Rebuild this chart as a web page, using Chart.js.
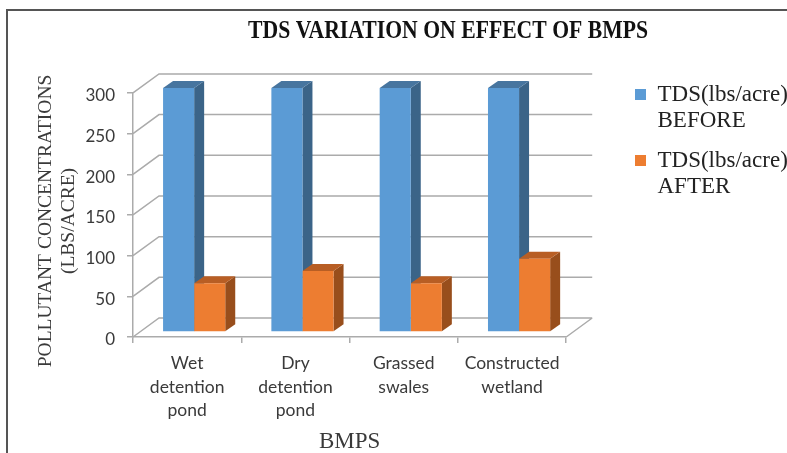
<!DOCTYPE html>
<html>
<head>
<meta charset="utf-8">
<style>
html, body { margin: 0; padding: 0; background: #fff; }
#wrap { width: 787px; height: 453px; position: relative; }
</style>
<script src="https://cdn.jsdelivr.net/npm/chart.js@4"></script>
</head>
<body>
<div id="wrap"><canvas id="chart" width="787" height="453"></canvas></div>
<script>
const categories = [
    ['Wet', 'detention', 'pond'],
    ['Dry', 'detention', 'pond'],
    ['Grassed', 'swales'],
    ['Constructed', 'wetland']
];
const before = [300, 300, 300, 300];
const after = [60, 75, 60, 90];
const seriesNames = [['TDS(lbs/acre)', 'BEFORE'], ['TDS(lbs/acre)', 'AFTER']];
const yTicks = [0, 50, 100, 150, 200, 250, 300];

const gridColor = '#ababab';
const textColor = '#3a3a3a';
const serif = '"Liberation Serif"';
const sans = 'Lato';

// depth of the fake 3D box, and of one bar
const wallDx = 26, wallDy = 19;
const barShiftX = 7, barShiftY = -5;
const barDx = 10, barDy = 7;

const shades = [
    { side: '#3b6488', top: '#47759f' },
    { side: '#984e1c', top: '#b85e24' }
];

const box3d = {
    id: 'box3d',
    afterLayout(chart) {
        // title and legend sit off-centre in the original
        chart.titleBlock.left = 248;
        chart.titleBlock.right = 648;
        chart.legend.left = 621;
        chart.legend.right = 787;
        chart.legend.top = 69;
        chart.legend.bottom = 300;
        // axis title sits a little below the middle of the axis
        const y = chart.scales.y;
        if (!y.shiftedTitle) {
            const drawTitle = y.drawTitle;
            y.drawTitle = function () {
                chart.ctx.save();
                chart.ctx.translate(0, 6);
                drawTitle.call(this);
                chart.ctx.restore();
            };
            y.shiftedTitle = true;
        }
    },
    beforeDraw(chart) {
        const ctx = chart.ctx;
        ctx.save();
        // page frame
        ctx.strokeStyle = '#555';
        ctx.lineWidth = 2;
        ctx.beginPath();
        ctx.moveTo(7, 453);
        ctx.lineTo(7, 10);
        ctx.lineTo(787, 10);
        ctx.stroke();
        ctx.restore();
    },
    beforeDatasetsDraw(chart) {
        const ctx = chart.ctx;
        const { left, right, bottom } = chart.chartArea;
        const y = chart.scales.y;
        ctx.save();
        ctx.strokeStyle = gridColor;
        ctx.lineWidth = 1.5;
        ctx.beginPath();
        y.ticks.forEach(t => {
            const py = y.getPixelForValue(t.value);
            ctx.moveTo(left, py);
            ctx.lineTo(left + wallDx, py - wallDy);
            ctx.lineTo(right + wallDx, py - wallDy);
        });
        ctx.moveTo(right, bottom);
        ctx.lineTo(right + wallDx, bottom - wallDy);
        ctx.stroke();
        ctx.restore();

        // bars are pushed into the box, side and top faces go behind the fronts
        ctx.save();
        ctx.translate(barShiftX, barShiftY);
        chart.data.datasets.forEach((ds, i) => {
            chart.getDatasetMeta(i).data.forEach(bar => {
                const x1 = bar.x - bar.width / 2, x2 = bar.x + bar.width / 2;
                ctx.fillStyle = shades[i].side;
                ctx.beginPath();
                ctx.moveTo(x2, bar.y);
                ctx.lineTo(x2 + barDx, bar.y - barDy);
                ctx.lineTo(x2 + barDx, bar.base - barDy);
                ctx.lineTo(x2, bar.base);
                ctx.fill();
                ctx.fillStyle = shades[i].top;
                ctx.beginPath();
                ctx.moveTo(x1, bar.y);
                ctx.lineTo(x1 + barDx, bar.y - barDy);
                ctx.lineTo(x2 + barDx, bar.y - barDy);
                ctx.lineTo(x2, bar.y);
                ctx.fill();
            });
        });
    },
    afterDatasetsDraw(chart) {
        chart.ctx.restore();
    }
};

const config = {
    type: 'bar',
    data: {
        labels: categories,
        datasets: [
            { label: seriesNames[0], data: before, backgroundColor: '#5b9bd5', clip: false },
            { label: seriesNames[1], data: after, backgroundColor: '#ed7d31', clip: false }
        ]
    },
    options: {
        responsive: false,
        animation: false,
        events: [],
        layout: { padding: { left: 0, top: 0, right: 44, bottom: 0 } },
        datasets: { bar: { barPercentage: 1, categoryPercentage: 0.574 } },
        scales: {
            x: {
                afterFit: s => { s.height = 116; },
                grid: { drawOnChartArea: false, color: gridColor, lineWidth: 1.5, tickLength: 6 },
                border: { color: gridColor, width: 1.5 },
                ticks: {
                    color: textColor,
                    padding: 9,
                    maxRotation: 0,
                    autoSkip: false,
                    font: { family: sans, size: 17.5, lineHeight: 1.34 }
                },
                title: {
                    display: true,
                    text: 'BMPS',
                    color: textColor,
                    padding: { top: 0, bottom: 0 },
                    font: { family: serif, size: 23, lineHeight: 0.96 }
                }
            },
            y: {
                min: 0,
                max: 300,
                afterFit: s => { s.width = 133; },
                afterBuildTicks: s => { s.ticks = yTicks.map(v => ({ value: v })); },
                grid: { drawOnChartArea: false, color: gridColor, lineWidth: 1.5, tickLength: 6 },
                border: { color: gridColor, width: 1.5 },
                ticks: {
                    color: textColor,
                    padding: 12,
                    labelOffset: 3,
                    font: { family: sans, size: 17 }
                },
                title: {
                    display: true,
                    text: ['POLLUTANT CONCENTRATIONS', '(LBS/ACRE)'],
                    color: textColor,
                    padding: { top: 34.5, bottom: 0 },
                    font: { family: serif, size: 19.5, lineHeight: 1.18 }
                }
            }
        },
        plugins: {
            title: {
                display: true,
                text: 'TDS VARIATION ON EFFECT OF BMPS',
                color: '#111',
                padding: { top: 18, bottom: 47 },
                font: { family: serif, size: 24.3, weight: 'bold', lineHeight: 1.15 }
            },
            legend: {
                display: true,
                position: 'right',
                align: 'start',
                labels: {
                    boxWidth: 11,
                    boxHeight: 11,
                    padding: 14,
                    color: '#222',
                    font: { family: serif, size: 23, lineHeight: 1.13 }
                }
            },
            tooltip: { enabled: false }
        }
    },
    plugins: [box3d]
};

const tdsChart = new Chart(document.getElementById('chart'), config);
</script>
</body>
</html>
